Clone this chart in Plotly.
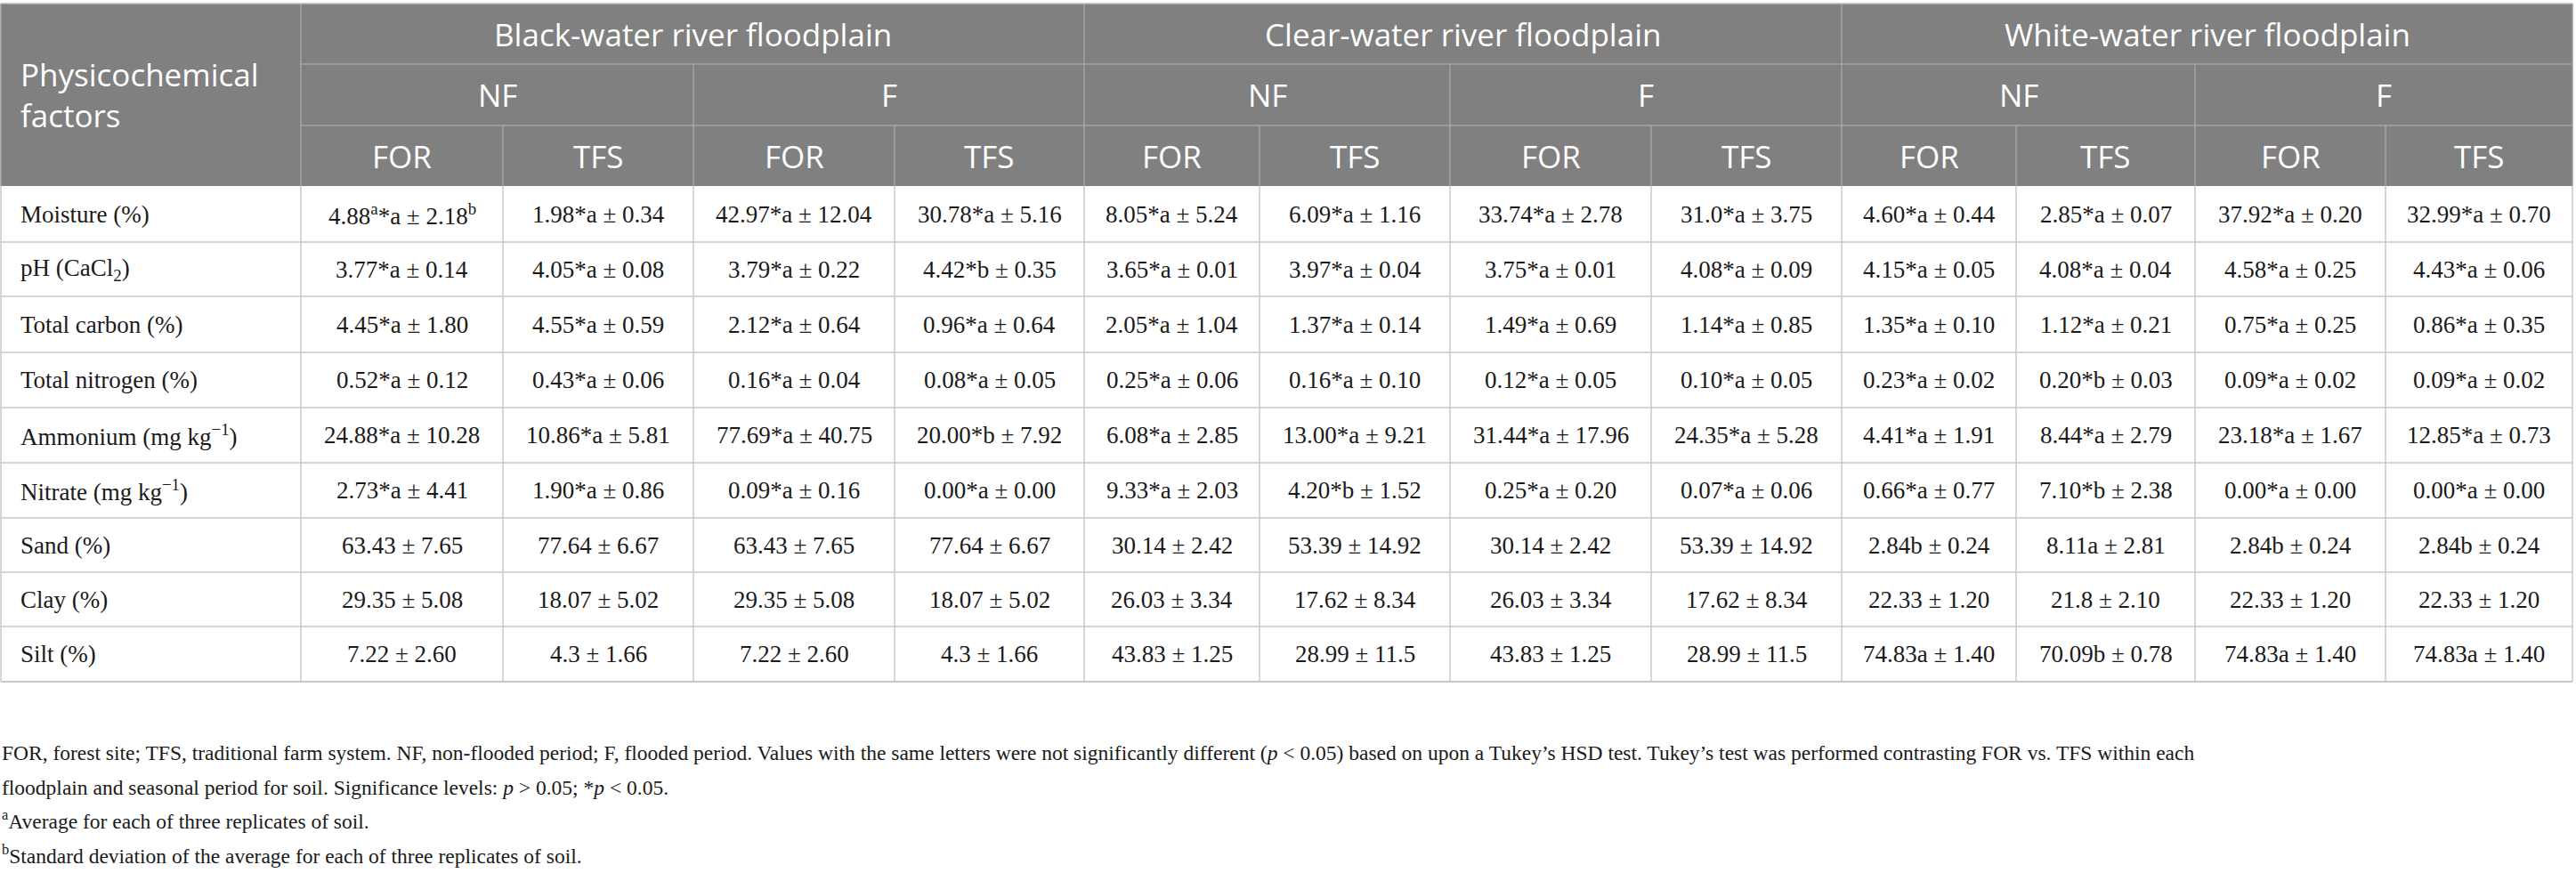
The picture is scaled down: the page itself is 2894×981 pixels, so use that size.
import numpy as np
import plotly.graph_objects as go

# ---------- data ----------
floodplains = ["Black-water river floodplain", "Clear-water river floodplain", "White-water river floodplain"]
periods = ["NF", "F"]
systems = ["FOR", "TFS"]

factors = ["Moisture (%)", "pH (CaCl<sub>2</sub>)", "Total carbon (%)", "Total nitrogen (%)",
           "Ammonium (mg kg<sup>−1</sup>)", "Nitrate (mg kg<sup>−1</sup>)", "Sand (%)", "Clay (%)", "Silt (%)"]

# columns: Black NF FOR, NF TFS, F FOR, F TFS, Clear ..., White ...
moisture_mean = ["4.88", "1.98", "42.97", "30.78", "8.05", "6.09", "33.74", "31.0", "4.60", "2.85", "37.92", "32.99"]
moisture_sig = ["*a"] * 12
moisture_sd = ["2.18", "0.34", "12.04", "5.16", "5.24", "1.16", "2.78", "3.75", "0.44", "0.07", "0.20", "0.70"]

ph_mean = ["3.77", "4.05", "3.79", "4.42", "3.65", "3.97", "3.75", "4.08", "4.15", "4.08", "4.58", "4.43"]
ph_sig = ["*a", "*a", "*a", "*b", "*a", "*a", "*a", "*a", "*a", "*a", "*a", "*a"]
ph_sd = ["0.14", "0.08", "0.22", "0.35", "0.01", "0.04", "0.01", "0.09", "0.05", "0.04", "0.25", "0.06"]

carbon_mean = ["4.45", "4.55", "2.12", "0.96", "2.05", "1.37", "1.49", "1.14", "1.35", "1.12", "0.75", "0.86"]
carbon_sig = ["*a"] * 12
carbon_sd = ["1.80", "0.59", "0.64", "0.64", "1.04", "0.14", "0.69", "0.85", "0.10", "0.21", "0.25", "0.35"]

nitrogen_mean = ["0.52", "0.43", "0.16", "0.08", "0.25", "0.16", "0.12", "0.10", "0.23", "0.20", "0.09", "0.09"]
nitrogen_sig = ["*a", "*a", "*a", "*a", "*a", "*a", "*a", "*a", "*a", "*b", "*a", "*a"]
nitrogen_sd = ["0.12", "0.06", "0.04", "0.05", "0.06", "0.10", "0.05", "0.05", "0.02", "0.03", "0.02", "0.02"]

ammonium_mean = ["24.88", "10.86", "77.69", "20.00", "6.08", "13.00", "31.44", "24.35", "4.41", "8.44", "23.18", "12.85"]
ammonium_sig = ["*a", "*a", "*a", "*b", "*a", "*a", "*a", "*a", "*a", "*a", "*a", "*a"]
ammonium_sd = ["10.28", "5.81", "40.75", "7.92", "2.85", "9.21", "17.96", "5.28", "1.91", "2.79", "1.67", "0.73"]

nitrate_mean = ["2.73", "1.90", "0.09", "0.00", "9.33", "4.20", "0.25", "0.07", "0.66", "7.10", "0.00", "0.00"]
nitrate_sig = ["*a", "*a", "*a", "*a", "*a", "*b", "*a", "*a", "*a", "*b", "*a", "*a"]
nitrate_sd = ["4.41", "0.86", "0.16", "0.00", "2.03", "1.52", "0.20", "0.06", "0.77", "2.38", "0.00", "0.00"]

sand_mean = ["63.43", "77.64", "63.43", "77.64", "30.14", "53.39", "30.14", "53.39", "2.84", "8.11", "2.84", "2.84"]
sand_sig = ["", "", "", "", "", "", "", "", "b", "a", "b", "b"]
sand_sd = ["7.65", "6.67", "7.65", "6.67", "2.42", "14.92", "2.42", "14.92", "0.24", "2.81", "0.24", "0.24"]

clay_mean = ["29.35", "18.07", "29.35", "18.07", "26.03", "17.62", "26.03", "17.62", "22.33", "21.8", "22.33", "22.33"]
clay_sig = [""] * 12
clay_sd = ["5.08", "5.02", "5.08", "5.02", "3.34", "8.34", "3.34", "8.34", "1.20", "2.10", "1.20", "1.20"]

silt_mean = ["7.22", "4.3", "7.22", "4.3", "43.83", "28.99", "43.83", "28.99", "74.83", "70.09", "74.83", "74.83"]
silt_sig = ["", "", "", "", "", "", "", "", "a", "b", "a", "a"]
silt_sd = ["2.60", "1.66", "2.60", "1.66", "1.25", "11.5", "1.25", "11.5", "1.40", "0.78", "1.40", "1.40"]

means = [moisture_mean, ph_mean, carbon_mean, nitrogen_mean, ammonium_mean, nitrate_mean, sand_mean, clay_mean, silt_mean]
sigs = [moisture_sig, ph_sig, carbon_sig, nitrogen_sig, ammonium_sig, nitrate_sig, sand_sig, clay_sig, silt_sig]
sds = [moisture_sd, ph_sd, carbon_sd, nitrogen_sd, ammonium_sd, nitrate_sd, sand_sd, clay_sd, silt_sd]

footnotes = [
    "FOR, forest site; TFS, traditional farm system. NF, non-flooded period; F, flooded period. Values with the same letters were not significantly different (<i>p</i> &lt; 0.05) based on upon a Tukey’s HSD test. Tukey’s test was performed contrasting FOR vs. TFS within each",
    "floodplain and seasonal period for soil. Significance levels: <i>p</i> &gt; 0.05; *<i>p</i> &lt; 0.05.",
    "<sup>a</sup>Average for each of three replicates of soil.",
    "<sup>b</sup>Standard deviation of the average for each of three replicates of soil.",
]

# ---------- layout geometry (pixels) ----------
W, H = 2894, 981
col_widths = [337, 227, 214, 226, 213, 197, 214, 226, 214, 196, 201, 214, 210]
head_heights = [68, 69, 68]
row_heights = [63, 61, 63, 62, 62, 62, 61, 61, 62]
foot_y = [846, 885, 921, 960]

x_edges = np.concatenate([[1], 1 + np.cumsum(col_widths)])
y_top = 4
h_edges = np.concatenate([[y_top], y_top + np.cumsum(head_heights)])
r_edges = np.concatenate([[h_edges[-1]], h_edges[-1] + np.cumsum(row_heights)])

HEAD_BG = "#7f807f"
HEAD_LINE = "#a4a5a4"
GRID = "#c8c8c8"
TXT = "#1a1a1a"
serif = "Liberation Serif"
sans = "Open Sans"
HEAD_SIZE = 35
BODY_SIZE = 27
FOOT_SIZE = 23.5

shapes = []
annotations = []


def line(x0, y0, x1, y1, color, w=1.5):
    shapes.append(dict(type="line", xref="x", yref="y", x0=x0, y0=y0, x1=x1, y1=y1,
                       line=dict(color=color, width=w)))


def text(x, y, s, size, color, font, xanchor="center"):
    annotations.append(dict(x=x, y=y, xref="x", yref="y", text=s, showarrow=False,
                            xanchor=xanchor, yanchor="middle", align="left",
                            font=dict(size=size, color=color, family=font)))


# header background
shapes.append(dict(type="rect", xref="x", yref="y", x0=x_edges[0], x1=x_edges[-1], y0=h_edges[0], y1=h_edges[-1],
                   fillcolor=HEAD_BG, line=dict(width=0), layer="below"))

# header lines
line(x_edges[1], h_edges[1], x_edges[-1], h_edges[1], HEAD_LINE)
line(x_edges[1], h_edges[2], x_edges[-1], h_edges[2], HEAD_LINE)
for i in range(1, len(x_edges) - 1):
    if (i - 1) % 4 == 0:
        y0 = h_edges[0]
    elif (i - 1) % 2 == 0:
        y0 = h_edges[1]
    else:
        y0 = h_edges[2]
    line(x_edges[i], y0, x_edges[i], h_edges[-1], HEAD_LINE)

# body grid
for y in r_edges[1:]:
    line(x_edges[0], y, x_edges[-1], y, GRID, 2 if y == r_edges[-1] else 1.5)
for x in x_edges:
    line(x, r_edges[0], x, r_edges[-1], GRID)
line(x_edges[0], y_top, x_edges[-1], y_top, "#bdbdbd", 1.5)
line(x_edges[0], y_top, x_edges[0], h_edges[-1], "#9a9a9a", 1.5)
line(x_edges[-1], y_top, x_edges[-1], h_edges[-1], "#9a9a9a", 1.5)

# header text
text(21, (h_edges[0] + h_edges[-1]) / 2, "Physicochemical<br>factors", HEAD_SIZE, "white", sans, "left")
for k, fp in enumerate(floodplains):
    cx = (x_edges[1 + 4 * k] + x_edges[5 + 4 * k]) / 2
    text(cx, (h_edges[0] + h_edges[1]) / 2, fp, HEAD_SIZE, "white", sans)
    for p, per in enumerate(periods):
        c0 = 1 + 4 * k + 2 * p
        text((x_edges[c0] + x_edges[c0 + 2]) / 2, (h_edges[1] + h_edges[2]) / 2, per, HEAD_SIZE, "white", sans)
        for s, sy in enumerate(systems):
            c = c0 + s
            text((x_edges[c] + x_edges[c + 1]) / 2, (h_edges[2] + h_edges[3]) / 2, sy, HEAD_SIZE, "white", sans)

# body text
for r, fac in enumerate(factors):
    cy = (r_edges[r] + r_edges[r + 1]) / 2
    text(21, cy, fac, BODY_SIZE, TXT, serif, "left")
    for c in range(12):
        m, sg, sd = means[r][c], sigs[r][c], sds[r][c]
        if r == 0 and c == 0:
            cell = f"{m}<sup>a</sup>{sg} ± {sd}<sup>b</sup>"
        else:
            cell = f"{m}{sg} ± {sd}"
        text((x_edges[c + 1] + x_edges[c + 2]) / 2, cy, cell, BODY_SIZE, TXT, serif)

# footnotes
for fy, fn in zip(foot_y, footnotes):
    text(0, fy, fn, FOOT_SIZE, TXT, serif, "left")

fig = go.Figure()
fig.update_layout(
    width=W, height=H,
    margin=dict(l=0, r=0, t=0, b=0),
    plot_bgcolor="white", paper_bgcolor="white",
    xaxis=dict(range=[0, W], visible=False, fixedrange=True),
    yaxis=dict(range=[H, 0], visible=False, fixedrange=True),
    shapes=shapes, annotations=annotations, showlegend=False,
)

# drop the default page margin so the table sits at the window's top-left
fig.write_html("out.html", config={"displayModeBar": False},
               post_script="document.body.style.margin='0';")
